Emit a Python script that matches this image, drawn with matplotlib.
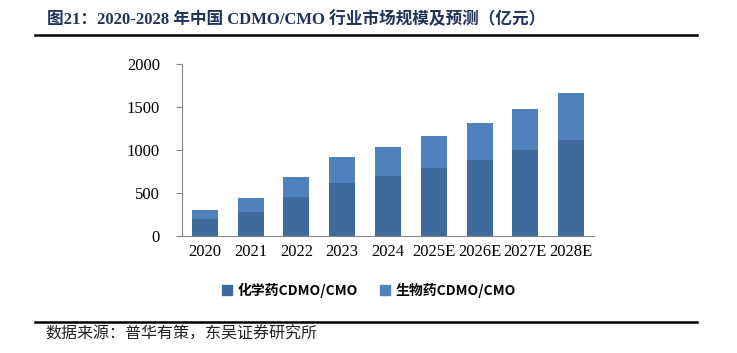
import matplotlib
matplotlib.use("Agg")
import matplotlib.pyplot as plt
from matplotlib.lines import Line2D
from matplotlib.patches import Patch
import numpy as np

years = ["2020", "2021", "2022", "2023", "2024", "2025E", "2026E", "2027E", "2028E"]
chem = [200, 280, 455, 615, 695, 785, 882, 995, 1115]
bio = [100, 156, 226, 306, 338, 380, 427, 481, 544]
series_names = ["化学药CDMO/CMO", "生物药CDMO/CMO"]
title = "图21：2020-2028 年中国 CDMO/CMO 行业市场规模及预测（亿元）"
source = "数据来源：普华有策，东吴证券研究所"

c_chem = "#3F6A9C"
c_bio = "#4F81BD"

fig = plt.figure(figsize=(7.37, 3.53), dpi=100)
W, H = 737, 353
ax = fig.add_axes([182 / W, 1 - 235.7 / H, (594 - 182) / W, (235.7 - 64) / H])

x = np.arange(len(years))
w = 0.57
ax.bar(x, chem, width=w, color=c_chem, label=series_names[0], zorder=2)
ax.bar(x, bio, width=w, bottom=chem, color=c_bio, label=series_names[1], zorder=2)

ax.set_xlim(-0.5, len(years) - 0.5)
ax.set_ylim(0, 2000)
ax.set_yticks([0, 500, 1000, 1500, 2000])
ax.set_xticks(x)
ax.set_xticklabels(years)
for s in ["top", "right"]:
    ax.spines[s].set_visible(False)
for s in ["left", "bottom"]:
    ax.spines[s].set_color("#868686")
    ax.spines[s].set_linewidth(0.8)
ax.tick_params(axis="y", length=4, color="#868686", width=0.8, pad=12)
ax.tick_params(axis="x", length=0, pad=6)
for lab in ax.get_xticklabels() + ax.get_yticklabels():
    lab.set_fontfamily("Liberation Serif")
    lab.set_fontsize(12)
    lab.set_color("black")

handles = [Patch(color=c_chem), Patch(color=c_bio)]
leg = fig.legend(handles, series_names, loc="center", bbox_to_anchor=(369 / W, 1 - 290 / H),
                 ncol=2, frameon=False, handlelength=0.7, handleheight=0.7,
                 handletextpad=0.4, columnspacing=1.6,
                 prop={"family": ["Noto Sans CJK SC", "DejaVu Sans"], "size": 10, "weight": "bold"})

fig.text(47 / W, 1 - 19.5 / H, title, ha="left", va="center",
         fontsize=12, fontweight="bold", color="#1f3458",
         family=["Liberation Serif", "Noto Sans CJK SC"])
fig.add_artist(Line2D([35 / W, 697 / W], [1 - 34.7 / H, 1 - 34.7 / H], color="black", lw=1.8))
fig.add_artist(Line2D([35 / W, 697 / W], [1 - 321.7 / H, 1 - 321.7 / H], color="black", lw=1.8))
fig.text(45 / W, 1 - 334 / H, source, ha="left", va="center", fontsize=11.5,
         color="#222222", family=["Noto Sans CJK SC", "DejaVu Sans"])

fig.savefig("out.png", dpi=100)
